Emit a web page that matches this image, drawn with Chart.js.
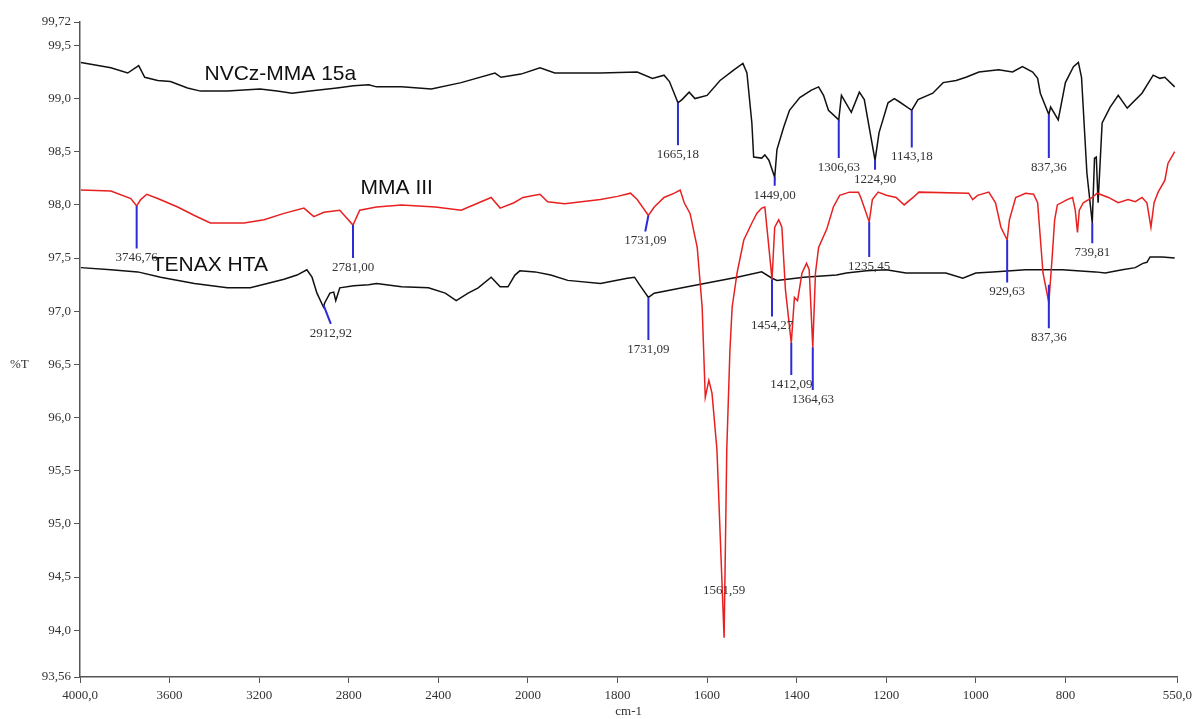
<!DOCTYPE html>
<html>
<head>
<meta charset="utf-8">
<script src="https://cdn.jsdelivr.net/npm/chart.js@4"></script>
<style>
  body { margin: 0; background: #fff; }
  canvas { display: block; }
</style>
</head>
<body>
<canvas id="ftir-chart" width="1197" height="719"></canvas>
<script>
// x axis ticks (cm-1), scale doubles below 2000
const xTicks = [4000, 3600, 3200, 2800, 2400, 2000, 1800, 1600, 1400, 1200, 1000, 800, 550];
const xTickLabels = ["4000,0", "3600", "3200", "2800", "2400", "2000", "1800", "1600", "1400", "1200", "1000", "800", "550,0"];
const yTicks = [93.56, 94.0, 94.5, 95.0, 95.5, 96.0, 96.5, 97.0, 97.5, 98.0, 98.5, 99.0, 99.5, 99.72];
const yTickLabels = ["93,56", "94,0", "94,5", "95,0", "95,5", "96,0", "96,5", "97,0", "97,5", "98,0", "98,5", "99,0", "99,5", "99,72"];

// [wavenumber, %T]
const nvczMma15a = [[3996,99.34],[3862,99.29],[3787,99.24],[3738,99.31],[3711,99.20],[3653,99.17],[3596,99.16],[3520,99.10],[3462,99.07],[3342,99.07],[3196,99.09],[3120,99.07],[3053,99.05],[2973,99.07],[2853,99.10],[2778,99.12],[2711,99.13],[2676,99.11],[2564,99.11],[2431,99.09],[2298,99.15],[2147,99.24],[2120,99.20],[2031,99.23],[1973,99.29],[1940,99.24],[1838,99.24],[1756,99.25],[1722,99.19],[1696,99.22],[1684,99.16],[1665,98.96],[1656,98.99],[1640,99.06],[1627,99.00],[1600,99.03],[1571,99.17],[1540,99.27],[1520,99.33],[1511,99.24],[1500,98.77],[1496,98.45],[1478,98.44],[1471,98.47],[1462,98.42],[1449,98.26],[1444,98.52],[1429,98.73],[1416,98.89],[1393,99.01],[1367,99.08],[1351,99.11],[1340,99.03],[1329,98.89],[1306,98.80],[1300,99.03],[1278,98.87],[1260,99.06],[1249,98.99],[1225,98.42],[1216,98.68],[1196,98.96],[1182,99.00],[1171,98.97],[1143,98.89],[1129,98.99],[1096,99.05],[1073,99.15],[1044,99.17],[1022,99.20],[993,99.25],[949,99.27],[918,99.25],[896,99.30],[873,99.25],[862,99.19],[856,99.05],[837,98.85],[833,98.92],[816,98.80],[800,99.15],[782,99.30],[771,99.34],[764,99.20],[752,98.30],[740,97.83],[735,98.44],[731,98.45],[727,98.02],[718,98.77],[700,98.92],[682,99.03],[662,98.91],[629,99.05],[604,99.22],[589,99.19],[578,99.20],[556,99.11]];

const mmaIII = [[3996,98.14],[3862,98.13],[3773,98.06],[3747,97.99],[3729,98.05],[3702,98.10],[3653,98.06],[3564,97.98],[3489,97.90],[3418,97.83],[3267,97.83],[3178,97.86],[3089,97.92],[3000,97.97],[2956,97.89],[2911,97.93],[2840,97.95],[2781,97.81],[2751,97.95],[2676,97.98],[2564,98.00],[2413,97.98],[2298,97.95],[2164,98.07],[2124,97.97],[2062,98.02],[2022,98.07],[1973,98.10],[1956,98.03],[1918,98.01],[1838,98.05],[1800,98.08],[1771,98.11],[1756,98.05],[1731,97.90],[1718,97.98],[1696,98.07],[1673,98.11],[1660,98.14],[1651,98.02],[1638,97.92],[1622,97.60],[1611,97.04],[1604,96.19],[1596,96.35],[1589,96.23],[1578,95.70],[1562,93.93],[1556,95.70],[1549,96.63],[1544,97.04],[1533,97.36],[1518,97.67],[1500,97.83],[1489,97.92],[1478,97.97],[1471,97.98],[1462,97.60],[1455,97.30],[1449,97.79],[1440,97.86],[1433,97.79],[1425,97.20],[1412,96.70],[1405,97.13],[1398,97.10],[1388,97.36],[1378,97.45],[1372,97.39],[1364,96.66],[1358,97.36],[1351,97.60],[1333,97.77],[1318,97.98],[1304,98.09],[1282,98.12],[1262,98.12],[1256,98.06],[1238,97.84],[1231,98.05],[1218,98.12],[1200,98.09],[1178,98.07],[1160,98.00],[1140,98.07],[1127,98.12],[1016,98.11],[1007,98.05],[996,98.09],[971,98.12],[956,98.02],[944,97.79],[930,97.67],[925,97.86],[911,98.07],[889,98.11],[871,98.10],[862,98.02],[850,97.36],[837,97.08],[830,97.48],[824,97.86],[818,98.00],[796,98.05],[784,98.07],[778,97.95],[773,97.74],[769,97.95],[760,98.02],[740,98.07],[729,98.11],[704,98.07],[682,98.02],[660,98.05],[644,98.03],[629,98.07],[618,98.02],[609,97.79],[602,98.02],[593,98.12],[578,98.23],[571,98.39],[556,98.50]];

const tenaxHta = [[3996,97.41],[3862,97.39],[3742,97.37],[3640,97.32],[3489,97.26],[3342,97.22],[3240,97.22],[3164,97.26],[3089,97.30],[3031,97.34],[2987,97.39],[2964,97.32],[2942,97.17],[2913,97.04],[2907,97.08],[2884,97.17],[2867,97.18],[2858,97.10],[2840,97.22],[2778,97.24],[2711,97.25],[2676,97.26],[2564,97.23],[2444,97.22],[2369,97.17],[2320,97.10],[2267,97.17],[2222,97.22],[2164,97.32],[2124,97.23],[2089,97.23],[2058,97.34],[2036,97.38],[1984,97.37],[1949,97.34],[1911,97.29],[1838,97.26],[1778,97.31],[1762,97.32],[1751,97.25],[1731,97.13],[1718,97.17],[1644,97.23],[1533,97.32],[1478,97.37],[1455,97.31],[1444,97.29],[1384,97.32],[1311,97.34],[1289,97.36],[1244,97.38],[1200,97.39],[1156,97.36],[1111,97.36],[1067,97.36],[1029,97.31],[1000,97.36],[962,97.37],[889,97.39],[807,97.39],[733,97.37],[711,97.36],[673,97.39],[644,97.41],[627,97.45],[618,97.46],[611,97.51],[584,97.51],[556,97.50]];

// peak marks: [label, wn at curve, %T at curve, wn at line end, %T at line end]
const peaks = [
  ["1665,18", 1665, 98.96, 1665, 98.56],
  ["1449,00", 1449, 98.26, 1449, 98.18],
  ["1306,63", 1306, 98.80, 1306, 98.44],
  ["1224,90", 1225, 98.42, 1225, 98.33],
  ["1143,18", 1143, 98.89, 1143, 98.54],
  ["837,36", 837, 98.85, 837, 98.44],
  ["739,81", 740, 97.83, 740, 97.64],
  ["3746,76", 3747, 97.99, 3747, 97.59],
  ["2781,00", 2781, 97.81, 2781, 97.50],
  ["1731,09", 1731, 97.90, 1738, 97.75],
  ["2912,92", 2913, 97.06, 2880, 96.88],
  ["1731,09", 1731, 97.13, 1731, 96.73],
  ["1454,27", 1455, 97.30, 1455, 96.95],
  ["1412,09", 1412, 96.70, 1412, 96.40],
  ["1364,63", 1364, 96.66, 1364, 96.26],
  ["1235,45", 1238, 97.84, 1238, 97.51],
  ["929,63", 930, 97.67, 930, 97.27],
  ["837,36", 837, 97.25, 837, 96.84],
  ["1561,59", 1562, 94.46, 1562, 94.46]
];

const seriesNames = [["NVCz-MMA 15a", 3444, 99.23], ["MMA III", 2747, 98.16], ["TENAX HTA", 3680, 97.43]];

const BREAK = 2000;

class FtirScale extends Chart.LinearScale {
  _frac(v) {
    const hi = this.max, lo = this.min;
    const total = (hi - BREAK) + 2 * (BREAK - lo);
    return ((hi - Math.max(v, BREAK)) + 2 * Math.max(0, BREAK - v)) / total;
  }
  getPixelForValue(value) {
    if (value === null || value === undefined) return NaN;
    return this.left + this._frac(value) * this.width;
  }
  getValueForPixel(pixel) {
    const hi = this.max, lo = this.min;
    const total = (hi - BREAK) + 2 * (BREAK - lo);
    const d = (pixel - this.left) / this.width * total;
    const first = hi - BREAK;
    return d <= first ? hi - d : BREAK - (d - first) / 2;
  }
}
FtirScale.id = 'ftir';
FtirScale.defaults = Chart.LinearScale.defaults;
Chart.register(FtirScale);

const toPts = arr => arr.map(p => ({ x: p[0], y: p[1] }));

const datasets = [];
peaks.forEach(p => {
  datasets.push({
    data: [{ x: p[1], y: p[2] }, { x: p[3], y: p[4] }],
    borderColor: '#2b2bd8',
    borderWidth: 2,
    pointRadius: 0,
    order: 0
  });
});
datasets.push({ label: 'MMA III', data: toPts(mmaIII), borderColor: '#e82020', borderWidth: 1.5, pointRadius: 0, order: 1 });
datasets.push({ label: 'NVCz-MMA 15a', data: toPts(nvczMma15a), borderColor: '#111', borderWidth: 1.5, pointRadius: 0, order: 2 });
datasets.push({ label: 'TENAX HTA', data: toPts(tenaxHta), borderColor: '#111', borderWidth: 1.5, pointRadius: 0, order: 2 });

const textPlugin = {
  id: 'ftirText',
  afterDatasetsDraw(chart) {
    const { ctx } = chart;
    const x = chart.scales.x, y = chart.scales.y;
    ctx.save();
    ctx.font = '13px "Liberation Serif"';
    ctx.fillStyle = '#333';
    ctx.textAlign = 'center';
    ctx.textBaseline = 'top';
    peaks.forEach(p => {
      ctx.fillText(p[0], x.getPixelForValue(p[3]), y.getPixelForValue(p[4]) + 3);
    });
    ctx.font = '21px "Liberation Sans"';
    ctx.fillStyle = '#111';
    ctx.textAlign = 'left';
    ctx.textBaseline = 'middle';
    seriesNames.forEach(s => {
      ctx.fillText(s[0], x.getPixelForValue(s[1]), y.getPixelForValue(s[2]));
    });
    ctx.font = '13px "Liberation Serif"';
    ctx.fillStyle = '#333';
    ctx.fillText('%T', 10, y.getPixelForValue(96.5));
    ctx.restore();
  }
};

new Chart(document.getElementById('ftir-chart'), {
  type: 'line',
  data: { datasets: datasets },
  plugins: [textPlugin],
  options: {
    responsive: false,
    animation: false,
    layout: { padding: { top: 22, right: 17, left: 0, bottom: 0 } },
    plugins: { legend: { display: false }, tooltip: { enabled: false } },
    elements: { line: { tension: 0 } },
    scales: {
      x: {
        type: 'ftir',
        min: 550,
        max: 4000,
        afterFit: s => { s.height = 42; },
        afterBuildTicks: s => { s.ticks = xTicks.map(v => ({ value: v })); },
        ticks: {
          autoSkip: false,
          maxRotation: 0,
          padding: 5,
          color: '#333',
          font: { family: 'Liberation Serif', size: 13 },
          callback: (v, i) => xTickLabels[i]
        },
        grid: { drawOnChartArea: false, tickLength: 6, color: '#555' },
        border: { color: '#555', width: 1.5 },
        title: {
          display: true,
          text: 'cm-1',
          color: '#333',
          font: { family: 'Liberation Serif', size: 13 },
          padding: { top: 0, bottom: 0 }
        }
      },
      y: {
        min: 93.56,
        max: 99.72,
        afterFit: s => { s.width = 80; },
        afterBuildTicks: s => { s.ticks = yTicks.map(v => ({ value: v })); },
        ticks: {
          autoSkip: false,
          padding: 3,
          color: '#333',
          font: { family: 'Liberation Serif', size: 13 },
          callback: (v, i) => yTickLabels[i]
        },
        grid: { drawOnChartArea: false, tickLength: 6, color: '#555' },
        border: { color: '#555', width: 1.5 }
      }
    }
  }
});
</script>
</body>
</html>
